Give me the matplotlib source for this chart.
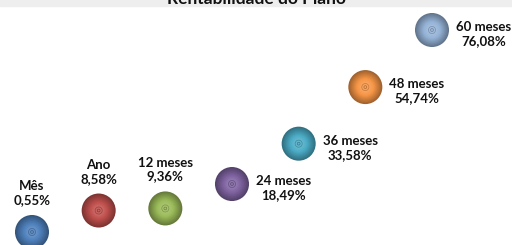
import numpy as np
import matplotlib.pyplot as plt
from matplotlib.colors import to_rgb

categorias = ["Mês", "Ano", "12 meses", "24 meses", "36 meses", "48 meses", "60 meses"]
rentabilidade = [0.55, 8.58, 9.36, 18.49, 33.58, 54.74, 76.08]
rotulos = ["0,55%", "8,58%", "9,36%", "18,49%", "33,58%", "54,74%", "76,08%"]
cores = ["#4F81BD", "#C0504D", "#9BBB59", "#8064A2", "#4BACC6", "#F79646", "#95B3D7"]

plt.rcParams["font.family"] = ["Lato", "DejaVu Sans"]

fig = plt.figure(figsize=(5.12, 2.45), dpi=100)
ax = fig.add_axes([0, 0, 1, 1])
ax.set_xlim(0.52, 8.2)
ax.set_ylim(-4.31, 87.3)
ax.axis("off")

# faixa do titulo (cortada no original)
fig.patches.append(plt.Rectangle((0, 1 - 6 / 245), 1, 6 / 245, transform=fig.transFigure,
                                 color="#EEEEEE", zorder=0))
fig.text(0.5, 1 + 1 / 245, "Rentabilidade do Plano", ha="center", va="center",
         fontsize=12.5, fontweight="bold", color="#111111")

x = np.arange(1, len(categorias) + 1)
base = 600
for i in range(len(x)):
    c = np.array(to_rgb(cores[i]))
    # camadas para imitar o efeito 3D da bolha
    for k, f in enumerate(np.linspace(1.0, 0.3, 14)):
        t = (1 - f) / 0.7
        escuro = 0.65 + 0.5 * t
        if escuro < 1:
            cor = c * escuro
        else:
            cor = c + (1 - c) * (escuro - 1) * 0.8
        ax.scatter(x[i], rentabilidade[i], s=base * f ** 2, color=np.clip(cor, 0, 1),
                   edgecolors="none", zorder=2 + k)
    ax.scatter(x[i], rentabilidade[i], s=26, facecolor="none",
               edgecolors=c * 0.8, linewidths=0.5, zorder=20)
    ax.scatter(x[i], rentabilidade[i], s=4, facecolor="none",
               edgecolors=c * 0.7, linewidths=0.5, zorder=21)

    texto = categorias[i] + "\n" + rotulos[i]
    if i < 3:
        ax.annotate(texto, (x[i], rentabilidade[i]), xytext=(0, 28), textcoords="offset points",
                    ha="center", va="center", fontsize=9.5, fontweight="bold",
                    color="#111111", linespacing=1.2)
    else:
        ax.annotate(texto, (x[i], rentabilidade[i]), xytext=(37, -3), textcoords="offset points",
                    ha="center", va="center", fontsize=9.5, fontweight="bold",
                    color="#111111", linespacing=1.2)

fig.savefig("out.png", dpi=100)
